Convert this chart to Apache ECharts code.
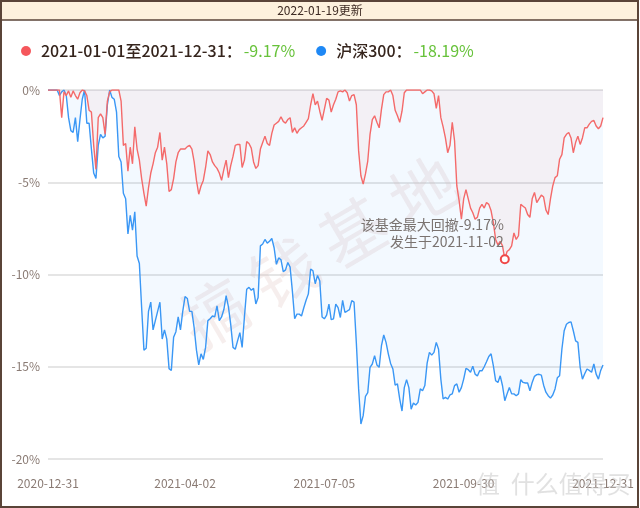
<!DOCTYPE html>
<html><head><meta charset="utf-8">
<script src="https://cdn.jsdelivr.net/npm/echarts@6/dist/echarts.min.js"></script>
<style>html,body{margin:0;padding:0;background:#fff}#c{width:640px;height:508px}</style>
</head><body><div id="c"></div>
<script>
// ---- data ----
const fundName = '2021-01-01至2021-12-31';
const indexName = '沪深300';
const fundReturn = '-9.17%';
const indexReturn = '-18.19%';
const updateText = '2022-01-19更新';
const yTicks = [0, -5, -10, -15, -20];
const closedDays2021 = ['2021-01-01','2021-02-11','2021-02-12','2021-02-15','2021-02-16','2021-02-17','2021-04-05','2021-05-03','2021-05-04','2021-05-05','2021-06-14','2021-09-20','2021-09-21','2021-10-01','2021-10-04','2021-10-05','2021-10-06','2021-10-07'];
const labelIdx = [0, 60, 121, 182, 243];
const maxDrawdownDate = '2021-11-02';
const maxDrawdownValue = -9.17;

const fundDD = [0,0,0,0,0,0,-1.5,-0.1,-0.3,-0.05,
 -0.4,-0.05,-0.3,-0.5,-0.15,0,-0.05,-0.3,-1.1,-1.2,
 -3.0,-4.3,-1.5,-1.3,-1.5,-2.4,-0.6,-0.1,0,0,
 0,0,-0.6,-3.0,-2.9,-4.4,-3.1,-4.0,-2.0,-3.2,
 -3.8,-4.8,-5.6,-6.3,-5.3,-4.5,-4.0,-3.4,-3.1,-2.3,
 -3.8,-3.1,-4.0,-5.5,-5.4,-4.8,-3.9,-3.4,-3.2,-3.2,
 -3.2,-3.07,-3.0,-3.2,-3.9,-4.9,-5.65,-5.2,-4.9,-4.2,
 -3.3,-3.5,-3.9,-4.1,-4.25,-4.5,-4.9,-4.3,-3.8,-4.75,
 -4.1,-3.6,-3.0,-2.95,-2.95,-4.2,-3.8,-2.8,-2.9,-3.15,
 -3.9,-4.25,-4.1,-3.2,-2.85,-2.5,-2.9,-3.0,-2.35,-1.9,
 -1.8,-1.7,-1.45,-1.7,-1.8,-1.6,-1.5,-2.3,-2.05,-2.35,
 -2.15,-2.05,-1.95,-1.75,-1.55,-0.8,-0.2,-0.8,-0.6,-1.15,
 -1.65,-1.05,-0.45,-0.55,-1.2,-0.8,-0.5,-0.1,-0.05,-0.1,
 0,-0.15,-0.6,-0.3,-0.25,-0.8,-3.3,-4.65,-5.1,-4.55,
 -3.85,-2.4,-1.6,-1.4,-1.75,-2.05,-1.05,-0.25,-0.1,-0.1,
 0,-0.3,-1.1,-1.4,-1.75,-1.15,-0.15,0,0,0,
 0,0,0,0,-0.2,-0.1,0,0,-0.05,-0.2,
 -1.0,-0.3,-1.5,-2.0,-2.6,-3.4,-3.0,-1.75,-2.75,-5.2,
 -6.0,-7.0,-5.9,-5.4,-5.9,-6.4,-6.65,-7.0,-6.9,-6.4,
 -6.2,-6.4,-6.1,-6.2,-6.55,-7.2,-8.1,-8.4,-8.2,-8.45,
 -9.17,-8.75,-8.65,-8.45,-7.75,-8.1,-7.9,-6.2,-6.3,-6.4,
 -6.75,-6.9,-5.9,-5.55,-6.1,-5.9,-5.7,-5.8,-6.5,-6.75,
 -5.9,-5.2,-4.75,-4.65,-3.75,-3.5,-2.6,-2.4,-2.3,-2.6,
 -3.4,-2.85,-2.5,-2.95,-2.6,-2.05,-2.05,-1.85,-1.7,-1.65,
 -1.95,-2.1,-1.95,-1.5];

const indexDD = [0,0,0,0,0,-0.3,-0.1,0,-0.3,-1.5,
 -2.2,-2.3,-1.5,-2.8,-1.6,-0.5,0,-1.8,-1.8,-3.2,
 -4.5,-4.8,-3.0,-2.4,-2.6,-2.5,-0.8,0,-0.4,-0.5,
 -1.2,-3.6,-3.9,-5.6,-5.9,-7.8,-6.8,-7.6,-6.6,-9.0,
 -9.4,-11.8,-14.1,-14.0,-12.0,-11.5,-13.0,-12.5,-12.0,-11.5,
 -13.5,-13.0,-13.5,-15.1,-15.2,-13.4,-13.1,-12.3,-13.0,-12.0,
 -11.2,-11.3,-12.0,-12.0,-12.9,-14.1,-14.9,-14.3,-14.6,-13.95,
 -12.5,-12.4,-12.25,-12.3,-11.7,-12.5,-12.3,-11.9,-11.15,-11.75,
 -12.7,-13.95,-14.05,-13.6,-13.15,-13.95,-12.3,-10.8,-10.7,-10.85,
 -10.75,-11.6,-11.25,-8.45,-8.35,-8.1,-8.3,-8.2,-8.05,-8.55,
 -9.45,-9.1,-9.2,-9.85,-9.75,-9.35,-9.6,-10.9,-12.4,-12.15,
 -12.15,-12.25,-11.8,-11.4,-11.05,-9.7,-9.8,-10.5,-10.05,-10.35,
 -12.3,-12.4,-12.2,-11.6,-12.45,-12.4,-11.6,-11.8,-12.33,-11.4,
 -12.05,-11.98,-11.9,-11.42,-11.5,-13.7,-16.2,-18.1,-17.65,-16.6,
 -16.4,-15.03,-14.85,-14.4,-14.9,-15.03,-13.86,-13.28,-13.68,-14.3,
 -14.82,-15.12,-16.0,-15.93,-16.75,-17.4,-16.13,-15.7,-16.13,-17.3,
 -16.97,-17.07,-16.93,-16.2,-16.3,-16.02,-14.8,-14.22,-14.37,-14.22,
 -13.68,-14.05,-15.67,-16.75,-16.66,-16.75,-16.53,-16.47,-16.02,-15.93,
 -16.38,-16.13,-15.67,-15.09,-15.16,-15.3,-14.97,-15.4,-15.5,-15.22,
 -15.22,-15.0,-14.73,-14.44,-14.3,-14.95,-15.76,-15.85,-15.49,-16.03,
 -16.84,-16.47,-16.13,-16.47,-16.47,-16.57,-16.47,-15.7,-15.85,-15.88,
 -15.88,-16.3,-15.85,-15.52,-15.43,-15.41,-15.45,-16.0,-16.38,-16.57,
 -16.7,-16.53,-16.2,-15.6,-15.49,-14.05,-13.05,-12.7,-12.6,-12.57,
 -13.05,-13.6,-13.68,-15.03,-15.67,-15.38,-15.12,-15.2,-15.3,-14.85,
 -15.4,-15.67,-15.2,-14.9];

// trading-day categories: 2020-12-31 + 2021 weekdays that were not market holidays
function pad(n){return (n<10?'0':'')+n;}
const dates = ['2020-12-31'];
for (let d = new Date(Date.UTC(2021,0,1)); d.getUTCFullYear() === 2021; d.setUTCDate(d.getUTCDate()+1)) {
  const wd = d.getUTCDay();
  const s = d.getUTCFullYear()+'-'+pad(d.getUTCMonth()+1)+'-'+pad(d.getUTCDate());
  if (wd === 0 || wd === 6 || closedDays2021.indexOf(s) >= 0) continue;
  dates.push(s);
}

const RED = '#f46a6a', BLUE = '#3a97f5';
const FONT = '"Noto Sans CJK SC","Noto Sans",sans-serif';
const chart = echarts.init(document.getElementById('c'), null, {renderer:'canvas'});
const labelSet = new Set(labelIdx);
const ddIdx = dates.indexOf(maxDrawdownDate);

chart.setOption({
  animation: false,
  textStyle: {fontFamily: FONT},
  grid: {left: 48, right: 37, top: 90, bottom: 49},
  legend: {
    left: 16, top: 38, icon: 'circle', itemWidth: 20, itemHeight: 10, itemGap: 21,
    data: [fundName, indexName],
    formatter: function(n){
      return n === fundName ? '{n|' + n + '：}{v|' + fundReturn + '}' : '{n|' + n + '：}{v|' + indexReturn + '}';
    },
    textStyle: {
      fontFamily: FONT,
      rich: {
        n: {fontSize: 16, color: '#35241c', fontWeight: 500, fontFamily: FONT},
        v: {fontSize: 16, color: '#67c23a', fontFamily: FONT, padding: [0,0,0,2]}
      }
    }
  },
  xAxis: {
    type: 'category', data: dates, boundaryGap: false,
    axisLine: {show: false}, axisTick: {show: false},
    axisLabel: {interval: function(i){return labelSet.has(i);}, color: '#8a7b74', fontSize: 12, margin: 18, fontFamily: FONT, showMaxLabel: true}
  },
  yAxis: {
    type: 'value', min: -20, max: 0, interval: 5,
    axisLine: {show: false}, axisTick: {show: false},
    axisLabel: {formatter: '{value}%', color: '#8a7b74', fontSize: 12, margin: 8, fontFamily: FONT},
    splitLine: {lineStyle: {color: '#dcdcdc', width: 1.5}}
  },
  series: [
    {
      name: indexName, type: 'line', data: indexDD, symbol: 'none', z: 2,
      lineStyle: {color: BLUE, width: 1.4}, itemStyle: {color: '#1e88f5'},
      areaStyle: {color: 'rgba(64,158,255,0.09)'}
    },
    {
      name: fundName, type: 'line', data: fundDD, symbol: 'none', z: 3,
      lineStyle: {color: RED, width: 1.4}, itemStyle: {color: '#f5575c'},
      areaStyle: {color: 'rgba(245,108,108,0.10)'},
      markPoint: {
        symbol: 'circle', symbolSize: 8, z: 10,
        itemStyle: {color: '#ffffff', borderColor: '#f04848', borderWidth: 2},
        data: [{coord: [ddIdx, maxDrawdownValue], value: maxDrawdownValue}],
        label: {
          show: true, position: [4, -4], align: 'right', verticalAlign: 'bottom',
          formatter: '该基金最大回撤' + maxDrawdownValue + '%\n发生于' + maxDrawdownDate,
          color: '#7a7370', fontSize: 14, lineHeight: 17, fontFamily: FONT
        }
      }
    }
  ],
  graphic: [
    {type: 'rect', z: 100, silent: true, shape: {x: 1, y: 1, width: 637, height: 19}, style: {fill: '#fdf1dd', stroke: '#5a4438', lineWidth: 1.5}},
    {type: 'text', z: 101, silent: true, left: 'center', top: 4, style: {text: updateText, fill: '#3d2a22', fontSize: 12, fontFamily: FONT}},
    {type: 'rect', z: 100, silent: true, shape: {x: 1, y: 1, width: 637, height: 506}, style: {fill: 'none', stroke: '#5a4438', lineWidth: 2}},
    {type: 'text', z: 1, silent: true, x: 319, y: 252, rotation: 0.53, originX: 0, originY: 0,
      style: {text: '搞 钱 基 地', fill: 'rgba(222,188,184,0.26)', fontSize: 66, fontFamily: FONT, align: 'center', verticalAlign: 'middle'}},
    {type: 'text', z: 1, silent: true, x: 476, y: 472,
      style: {text: '值  什么值得买', fill: 'rgba(200,200,200,0.55)', fontSize: 24, fontFamily: FONT}}
  ]
});
</script></body></html>
